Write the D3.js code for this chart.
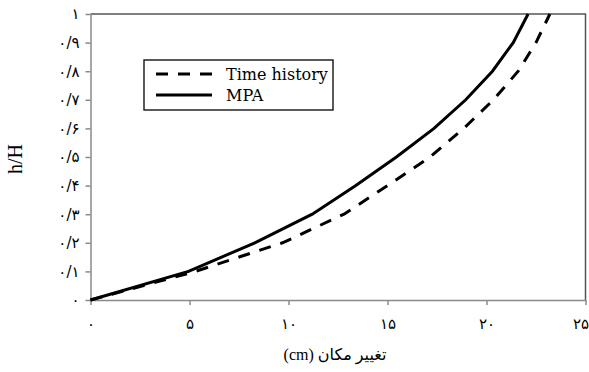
<!DOCTYPE html>
<html>
<head>
<meta charset="utf-8">
<script src="https://cdn.jsdelivr.net/npm/d3@7/dist/d3.min.js"></script>
<style>
  html, body { margin: 0; padding: 0; background: #fff; }
  svg { display: block; }
</style>
</head>
<body>
<svg id="chart" width="589" height="372"></svg>
<script>
// Relative height levels h/H
const levels = [0, 0.1, 0.2, 0.3, 0.4, 0.5, 0.6, 0.7, 0.8, 0.9, 1.0];
// Displacement (cm) at each level
const timeHistory = [0, 5.3, 9.7, 12.8, 15.0, 17.15, 18.85, 20.35, 21.6, 22.5, 23.2];
const mpa = [0, 4.95, 8.3, 11.2, 13.4, 15.45, 17.35, 18.95, 20.3, 21.35, 22.1];

const xTicks = [0, 5, 10, 15, 20, 25];
const xTickLabels = ["۰", "۵", "۱۰", "۱۵", "۲۰", "۲۵"];
const yTicks = [0, 0.1, 0.2, 0.3, 0.4, 0.5, 0.6, 0.7, 0.8, 0.9, 1];
const yTickLabels = ["۰", "۰/۱", "۰/۲", "۰/۳", "۰/۴", "۰/۵", "۰/۶", "۰/۷", "۰/۸", "۰/۹", "۱"];

const seriesNames = ["Time history", "MPA"];

const svg = d3.select("#chart");
const plotL = 90.5, plotR = 585.5, plotT = 14, plotB = 300;

const x = d3.scaleLinear().domain([0, 25]).range([plotL, plotR]);
const y = d3.scaleLinear().domain([0, 1]).range([plotB, plotT]);

// Plot frame (top and right edges)
svg.append("path")
  .attr("d", `M${plotL},${plotT}H${plotR}V${plotB}`)
  .attr("fill", "none")
  .attr("stroke", "#555")
  .attr("stroke-width", 1.5);

// X axis
const xAxis = svg.append("g")
  .attr("transform", `translate(0,${plotB})`)
  .call(d3.axisBottom(x).tickValues(xTicks).tickSize(5).tickSizeOuter(0)
    .tickFormat((d, i) => xTickLabels[i]));
xAxis.select(".domain").attr("stroke", "#8a8a8a").attr("stroke-width", 1.5);
xAxis.selectAll(".tick line").attr("stroke", "#8a8a8a").attr("stroke-width", 1.5);
xAxis.selectAll(".tick text")
  .attr("y", 18)
  .attr("font-family", "'DejaVu Sans', sans-serif")
  .attr("font-size", 15)
  .attr("fill", "#000");
// keep the last label inside the canvas
xAxis.selectAll(".tick text")
  .filter((d, i, n) => i === n.length - 1)
  .attr("text-anchor", "end")
  .attr("x", 3);

// Y axis
const yAxis = svg.append("g")
  .attr("transform", `translate(${plotL},0)`)
  .call(d3.axisLeft(y).tickValues(yTicks).tickSize(5).tickSizeOuter(0)
    .tickFormat((d, i) => yTickLabels[i]));
yAxis.select(".domain").attr("stroke", "#8a8a8a").attr("stroke-width", 1.5);
yAxis.selectAll(".tick line").attr("stroke", "#8a8a8a").attr("stroke-width", 1.5);
yAxis.selectAll(".tick text")
  .attr("x", -11)
  .attr("font-family", "'DejaVu Sans', sans-serif")
  .attr("font-size", 15)
  .attr("fill", "#000");

// Curves
const line = d3.line()
  .x(d => x(d[0]))
  .y(d => y(d[1]));

svg.append("path")
  .datum(timeHistory.map((v, i) => [v, levels[i]]))
  .attr("d", line)
  .attr("fill", "none")
  .attr("stroke", "#000")
  .attr("stroke-width", 3)
  .attr("stroke-dasharray", "12,10");

svg.append("path")
  .datum(mpa.map((v, i) => [v, levels[i]]))
  .attr("d", line)
  .attr("fill", "none")
  .attr("stroke", "#000")
  .attr("stroke-width", 3);

// Legend
const legend = svg.append("g");
legend.append("rect")
  .attr("x", 144).attr("y", 60)
  .attr("width", 189).attr("height", 50)
  .attr("fill", "#fff").attr("stroke", "#000").attr("stroke-width", 1.3);
const legendRows = [
  { name: seriesNames[0], dash: "12,10", y: 74 },
  { name: seriesNames[1], dash: null, y: 95 }
];
legendRows.forEach(r => {
  legend.append("line")
    .attr("x1", 156).attr("x2", 212)
    .attr("y1", r.y).attr("y2", r.y)
    .attr("stroke", "#000").attr("stroke-width", 3)
    .attr("stroke-dasharray", r.dash);
  legend.append("text")
    .attr("x", 226).attr("y", r.y + 6)
    .attr("font-family", "'DejaVu Serif', serif")
    .attr("font-size", 16)
    .text(r.name);
});

// Axis titles
svg.append("text")
  .attr("x", 335).attr("y", 360)
  .attr("text-anchor", "middle")
  .attr("direction", "rtl")
  .attr("font-family", "'Liberation Serif', 'DejaVu Sans', serif")
  .attr("font-size", 16)
  .text("تغییر مکان (cm)");

svg.append("text")
  .attr("transform", "translate(22,159) rotate(-90)")
  .attr("text-anchor", "middle")
  .attr("font-family", "'Liberation Serif', serif")
  .attr("font-size", 20)
  .text("h/H");
</script>
</body>
</html>
